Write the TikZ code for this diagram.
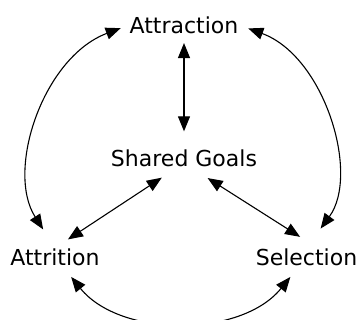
\documentclass[tikz,border=0pt]{standalone}
\usepackage{fontspec}
\setmainfont{DejaVu Sans}
\usetikzlibrary{arrows.meta}

\begin{document}
\begin{tikzpicture}[x=1pt, y=1pt, line width=1.1pt,
    term/.style={font=\fontsize{22}{26}\selectfont, inner sep=0pt},
    link/.style={{Triangle[length=15pt, width=12pt]}-{Triangle[length=15pt, width=12pt]}}]
        \useasboundingbox (0,0) rectangle (358,320);

        \node[term] (attraction) at (184,295) {Attraction};
        \node[term] (goals) at (184,162) {Shared Goals};
        \node[term] (attrition) at (55,63) {Attrition};
        \node[term] (selection) at (306.5,63) {Selection};

        % spokes to the centre
        \draw[link, shorten <=9pt, shorten >=17.6pt] (attraction.south) -- (goals.north);
        \draw[link, shorten <=15.5pt, shorten >=26.6pt] (attrition.north) -- ([yshift=4pt]goals.south);
        \draw[link, shorten <=28pt, shorten >=7.6pt] ([yshift=4pt]goals.south) -- ([yshift=7pt]selection.north);

        % outer ring
        \draw[link, shorten <=9pt, shorten >=22pt] (attraction.west) to[bend right=51] (attrition.north);
        \draw[link, shorten <=10pt, shorten >=24pt] (attraction.east) to[bend left=53] (selection.north);
        \draw[link, shorten <=14pt, shorten >=14pt] (attrition) to[bend right=51] (selection);
    \end{tikzpicture}
\end{document}
